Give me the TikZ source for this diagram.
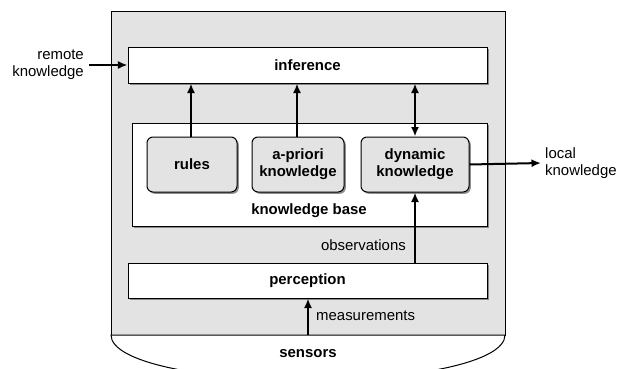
\documentclass[tikz,border=0pt]{standalone}
\usepackage{fontspec}
\setmainfont{Liberation Sans}
\usetikzlibrary{arrows.meta,shadows,calc}
\begin{document}
\begin{tikzpicture}[x=1bp,y=-1bp,
  every node/.style={font=\fontsize{15}{17}\selectfont, align=center, inner sep=0pt},
  shad/.style={drop shadow={shadow xshift=1.8bp, shadow yshift=-1.8bp, fill=black!55, opacity=0.8}},
  wbox/.style={draw=black, line width=1bp, fill=white, shad, font=\fontsize{15}{17}\selectfont\bfseries},
  gbox/.style={draw=black, line width=1bp, fill=gray!22, rounded corners=6bp, shad, font=\fontsize{15}{17}\selectfont\bfseries},
  lbl/.style={font=\fontsize{15}{17}\selectfont},
  arr/.style={line width=2bp, -{Latex[length=9.5bp,width=8bp]}},
  darr/.style={line width=2bp, {Latex[length=9.5bp,width=8bp]}-{Latex[length=9.5bp,width=8bp]}}
]
\useasboundingbox (0,0) rectangle (618,368);
\begin{scope}
\clip (0,0) rectangle (618,368);
% outer system box
\filldraw[fill=gray!22, draw=black, line width=1bp] (111,11) rectangle (505,335);
% sensors region
\draw[line width=1bp, fill=white] (111,335) .. controls (111,362) and (200,380) .. (308,380) .. controls (416,380) and (505,362) .. (505,335) -- cycle;
\end{scope}
\node[font=\fontsize{15}{17}\selectfont\bfseries] (sensors) at (308,354) {sensors};
\coordinate (sensTop) at (308,335);

% boxes
\node[wbox, minimum width=359bp, minimum height=36bp] (inference) at (307.5,65) {inference};
\node[wbox, minimum width=355bp, minimum height=103bp] (kb) at (309.5,174.5) {};
\node[font=\fontsize{15}{17}\selectfont\bfseries] (kblabel) at (309,211) {knowledge base};
\node[gbox, minimum width=90bp, minimum height=55bp] (rules) at (192,164.5) {rules};
\node[gbox, minimum width=92bp, minimum height=55bp] (apriori) at (298,164.5) {a-priori\\knowledge};
\node[gbox, minimum width=108bp, minimum height=55bp] (dynamic) at (415,164.5) {dynamic\\knowledge};
\node[wbox, minimum width=359bp, minimum height=35bp] (perception) at (307.5,280.5) {perception};

% external labels
\node[lbl, align=right, anchor=east] (remote) at (84,65) {remote\\knowledge};
\node[lbl, align=left, anchor=west] (local) at (545,163) {local\\knowledge};

% connectors
\draw[arr] (remote.east) ++(5,0) coordinate (remStart) -- (inference.west);
\draw[arr] (rules.north -| 191,0) -- (inference.south -| 191,0);
\draw[arr] (apriori.north -| 297,0) -- (inference.south -| 297,0);
\draw[darr] (dynamic.north) -- (inference.south -| dynamic.north);
\draw[arr] (dynamic.east) -- ($(local.west)+(-4,0)$);
\draw[arr] (perception.north -| dynamic.south) -- (dynamic.south);
\draw[arr] (sensTop) -- (perception.south -| sensTop);

% connector labels
\node[lbl, anchor=east] (obs) at (406,245) {observations};
\node[lbl, anchor=west] (meas) at (316,316) {measurements};
\end{tikzpicture}
\end{document}
